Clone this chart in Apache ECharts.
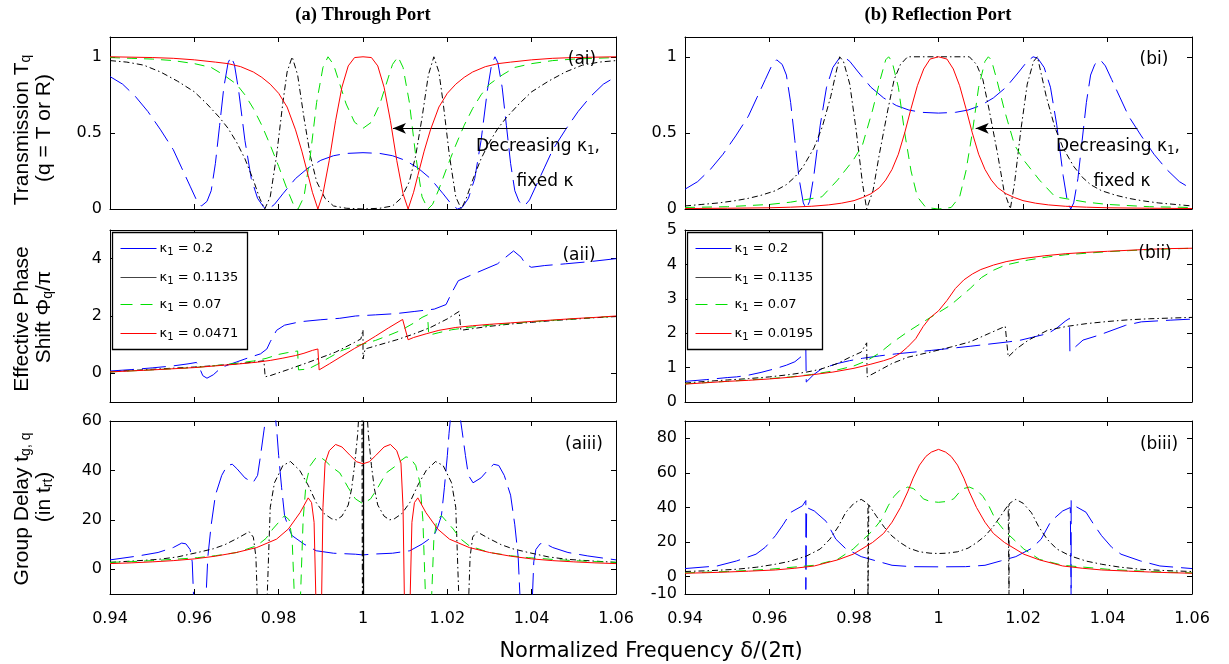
<!DOCTYPE html>
<html><head><meta charset="utf-8">
<script src="https://cdn.jsdelivr.net/npm/echarts@6/dist/echarts.min.js"></script>
<style>html,body{margin:0;padding:0;background:#fff}#c{width:1229px;height:664px}</style>
</head><body><div id="c"></div>
<script>
// ---------- tick labels / categories ----------
const xTicks = [0.94, 0.96, 0.98, 1, 1.02, 1.04, 1.06];
const yTicksT = [0, 0.5, 1];
const yTicksPhaseA = [0, 2, 4];
const yTicksPhaseB = [0, 1, 2, 3, 4, 5];
const yTicksDelayA = [0, 20, 40, 60];
const yTicksDelayB = [-10, 0, 20, 40, 60, 80];
const kappaLeft = ['0.2', '0.1135', '0.07', '0.0471'];
const kappaRight = ['0.2', '0.1135', '0.07', '0.0195'];
const arrowA = [[1.0483, 0.53], [1.0071, 0.53]];
const arrowB = [[1.0471, 0.53], [1.0088, 0.53]];
const centreSpike = [1.0];

// ---------- (ai) through-port transmission ----------
const tBlue = [[0.94,0.87],[0.943,0.82],[0.946,0.74],[0.949,0.64],[0.952,0.52],[0.955,0.39],[0.957,0.27],[0.959,0.15],[0.9605,0.06],[0.9617,0.02],[0.963,0.05],[0.964,0.12],[0.965,0.3],[0.966,0.55],[0.967,0.8],[0.968,0.96],[0.9687,1.0],[0.9695,0.95],[0.9705,0.78],[0.972,0.45],[0.9735,0.2],[0.975,0.07],[0.9765,0.01],[0.9776,0.0],[0.979,0.03],[0.981,0.1],[0.984,0.2],[0.987,0.27],[0.99,0.32],[0.993,0.35],[0.996,0.365],[1.0,0.37],[1.004,0.365],[1.007,0.35],[1.01,0.32],[1.013,0.27],[1.016,0.2],[1.019,0.1],[1.021,0.03],[1.0224,0.0],[1.0235,0.01],[1.025,0.07],[1.0265,0.2],[1.028,0.45],[1.0295,0.78],[1.0305,0.95],[1.0313,1.0],[1.032,0.96],[1.033,0.8],[1.034,0.55],[1.035,0.3],[1.036,0.12],[1.037,0.05],[1.0383,0.02],[1.0395,0.06],[1.041,0.15],[1.043,0.27],[1.045,0.39],[1.048,0.52],[1.051,0.64],[1.054,0.74],[1.057,0.82],[1.06,0.87]];
const tBlack = [[0.94,0.975],[0.944,0.965],[0.948,0.945],[0.952,0.9],[0.956,0.84],[0.96,0.77],[0.963,0.69],[0.966,0.6],[0.968,0.53],[0.97,0.44],[0.972,0.33],[0.974,0.19],[0.9755,0.07],[0.9767,0.0],[0.978,0.08],[0.9795,0.35],[0.981,0.7],[0.982,0.9],[0.9832,1.0],[0.9845,0.88],[0.986,0.6],[0.9875,0.35],[0.989,0.18],[0.991,0.07],[0.993,0.02],[0.996,0.005],[1.0,0.0],[1.004,0.005],[1.007,0.02],[1.009,0.07],[1.011,0.18],[1.0125,0.35],[1.014,0.6],[1.0155,0.88],[1.0168,1.0],[1.018,0.9],[1.019,0.7],[1.0205,0.35],[1.022,0.08],[1.0233,0.0],[1.0245,0.07],[1.026,0.19],[1.028,0.33],[1.03,0.44],[1.032,0.53],[1.034,0.6],[1.037,0.69],[1.04,0.77],[1.044,0.84],[1.048,0.9],[1.052,0.945],[1.056,0.965],[1.06,0.975]];
const tGreen = [[0.94,0.995],[0.945,0.99],[0.95,0.985],[0.955,0.975],[0.96,0.955],[0.964,0.93],[0.967,0.88],[0.97,0.82],[0.972,0.75],[0.974,0.66],[0.976,0.55],[0.978,0.42],[0.98,0.28],[0.982,0.13],[0.9835,0.03],[0.9846,0.0],[0.986,0.08],[0.9875,0.35],[0.989,0.7],[0.9905,0.93],[0.9917,1.0],[0.993,0.95],[0.9945,0.82],[0.996,0.69],[0.998,0.57],[1.0,0.53],[1.002,0.57],[1.004,0.69],[1.0055,0.82],[1.007,0.95],[1.0083,1.0],[1.0095,0.93],[1.011,0.7],[1.0125,0.35],[1.014,0.08],[1.0154,0.0],[1.0165,0.03],[1.018,0.13],[1.02,0.28],[1.022,0.42],[1.024,0.55],[1.026,0.66],[1.028,0.75],[1.03,0.82],[1.033,0.88],[1.036,0.93],[1.04,0.955],[1.045,0.975],[1.05,0.985],[1.055,0.99],[1.06,0.995]];
const tRed = [[0.94,1.0],[0.95,0.995],[0.955,0.99],[0.96,0.98],[0.965,0.965],[0.968,0.955],[0.971,0.935],[0.974,0.9],[0.976,0.865],[0.978,0.82],[0.98,0.76],[0.982,0.67],[0.984,0.52],[0.9855,0.38],[0.987,0.22],[0.988,0.11],[0.9893,0.0],[0.9905,0.1],[0.992,0.32],[0.9935,0.58],[0.995,0.8],[0.9965,0.94],[0.998,0.995],[1.0,1.0],[1.002,0.995],[1.0035,0.94],[1.005,0.8],[1.0065,0.58],[1.008,0.32],[1.0095,0.1],[1.0107,0.0],[1.012,0.11],[1.013,0.22],[1.0145,0.38],[1.016,0.52],[1.018,0.67],[1.02,0.76],[1.022,0.82],[1.024,0.865],[1.026,0.9],[1.029,0.935],[1.032,0.955],[1.035,0.965],[1.04,0.98],[1.045,0.99],[1.05,0.995],[1.06,1.0]];

// ---------- (bi) reflection-port transmission ----------
const rBlue = [[0.94,0.13],[0.943,0.18],[0.946,0.26],[0.949,0.36],[0.952,0.48],[0.955,0.61],[0.957,0.73],[0.959,0.85],[0.9605,0.94],[0.9617,0.98],[0.963,0.95],[0.964,0.88],[0.965,0.7],[0.966,0.45],[0.967,0.2],[0.968,0.04],[0.9687,0.0],[0.9695,0.05],[0.9705,0.22],[0.972,0.55],[0.9735,0.8],[0.975,0.93],[0.9765,0.99],[0.9776,1.0],[0.979,0.97],[0.981,0.9],[0.984,0.8],[0.987,0.73],[0.99,0.68],[0.993,0.65],[0.996,0.635],[1.0,0.63],[1.004,0.635],[1.007,0.65],[1.01,0.68],[1.013,0.73],[1.016,0.8],[1.019,0.9],[1.021,0.97],[1.0224,1.0],[1.0235,0.99],[1.025,0.93],[1.0265,0.8],[1.028,0.55],[1.0295,0.22],[1.0305,0.05],[1.0313,0.0],[1.032,0.04],[1.033,0.2],[1.034,0.45],[1.035,0.7],[1.036,0.88],[1.037,0.95],[1.0383,0.98],[1.0395,0.94],[1.041,0.85],[1.043,0.73],[1.045,0.61],[1.048,0.48],[1.051,0.36],[1.054,0.26],[1.057,0.18],[1.06,0.13]];
const rBlack = [[0.94,0.02],[0.944,0.03],[0.948,0.04],[0.952,0.055],[0.955,0.07],[0.958,0.09],[0.9614,0.12],[0.964,0.16],[0.966,0.21],[0.968,0.28],[0.9705,0.4],[0.9725,0.54],[0.9745,0.74],[0.9757,0.89],[0.9766,1.0],[0.9775,0.97],[0.979,0.82],[0.9805,0.52],[0.982,0.17],[0.983,0.0],[0.9845,0.12],[0.986,0.36],[0.988,0.65],[0.9895,0.85],[0.991,0.95],[0.9927,1.0],[1.0,1.0],[1.0073,1.0],[1.009,0.95],[1.0105,0.85],[1.012,0.65],[1.014,0.36],[1.0155,0.12],[1.017,0.0],[1.018,0.17],[1.0195,0.52],[1.021,0.82],[1.0225,0.97],[1.0234,1.0],[1.0243,0.89],[1.0255,0.74],[1.0275,0.54],[1.0295,0.4],[1.032,0.28],[1.034,0.21],[1.036,0.16],[1.0386,0.12],[1.042,0.09],[1.045,0.07],[1.048,0.055],[1.052,0.04],[1.056,0.03],[1.06,0.02]];
const rGreen = [[0.94,0.01],[0.95,0.015],[0.96,0.03],[0.965,0.045],[0.9724,0.08],[0.9761,0.19],[0.9798,0.32],[0.982,0.42],[0.9844,0.65],[0.9863,0.86],[0.9875,0.98],[0.9882,1.0],[0.989,0.97],[0.9905,0.8],[0.992,0.5],[0.9935,0.25],[0.995,0.08],[0.997,0.01],[1.0,0.0],[1.003,0.01],[1.005,0.08],[1.0065,0.25],[1.008,0.5],[1.0095,0.8],[1.011,0.97],[1.0118,1.0],[1.0125,0.98],[1.0137,0.86],[1.0156,0.65],[1.018,0.42],[1.0202,0.32],[1.0239,0.19],[1.0276,0.08],[1.035,0.045],[1.04,0.03],[1.05,0.015],[1.06,0.01]];
const rRed = [[0.94,0.003],[0.95,0.005],[0.96,0.008],[0.965,0.012],[0.97,0.018],[0.974,0.027],[0.977,0.038],[0.98,0.055],[0.982,0.075],[0.984,0.1],[0.986,0.14],[0.9875,0.19],[0.989,0.26],[0.9905,0.36],[0.992,0.5],[0.9935,0.66],[0.995,0.81],[0.9965,0.92],[0.998,0.985],[1.0,1.0],[1.002,0.985],[1.0035,0.92],[1.005,0.81],[1.0065,0.66],[1.008,0.5],[1.0095,0.36],[1.011,0.26],[1.0125,0.19],[1.014,0.14],[1.016,0.1],[1.018,0.075],[1.02,0.055],[1.023,0.038],[1.026,0.027],[1.03,0.018],[1.035,0.012],[1.04,0.008],[1.05,0.005],[1.06,0.003]];

// ---------- (aii) through-port phase ----------
const pBlue = [[0.94,0.08],[0.945,0.13],[0.95,0.19],[0.955,0.26],[0.9585,0.33],[0.9605,0.38],[0.9612,0.2],[0.962,-0.08],[0.963,-0.17],[0.9645,-0.05],[0.9664,0.2],[0.9685,0.32],[0.9701,0.4],[0.972,0.5],[0.974,0.6],[0.9757,0.68],[0.9772,0.85],[0.978,1.1],[0.9795,1.5],[0.9814,1.68],[0.9851,1.8],[0.99,1.87],[0.9945,1.92],[0.9982,2.0],[1.003,2.04],[1.0076,2.08],[1.0123,2.16],[1.0169,2.24],[1.0197,2.4],[1.021,2.8],[1.0226,3.23],[1.0263,3.47],[1.0319,3.82],[1.0357,4.27],[1.0375,4.05],[1.0385,3.82],[1.0399,3.7],[1.0431,3.76],[1.048,3.82],[1.054,3.9],[1.06,4.0]];
const pBlack = [[0.94,0.05],[0.945,0.1],[0.95,0.14],[0.955,0.18],[0.96,0.22],[0.965,0.27],[0.97,0.33],[0.974,0.39],[0.9765,0.44],[0.9768,-0.12],[0.978,-0.08],[0.982,0.12],[0.987,0.38],[0.9935,0.74],[0.998,1.08],[0.9995,1.2],[1.0,1.52],[1.0,0.5],[1.0005,0.85],[1.004,1.0],[1.008,1.17],[1.012,1.37],[1.016,1.6],[1.02,1.9],[1.0228,2.16],[1.0232,1.5],[1.026,1.56],[1.03,1.64],[1.035,1.72],[1.04,1.78],[1.045,1.84],[1.05,1.89],[1.055,1.94],[1.06,1.98]];
const pGreen = [[0.94,0.05],[0.95,0.12],[0.96,0.2],[0.965,0.27],[0.97,0.35],[0.974,0.43],[0.977,0.52],[0.98,0.66],[0.982,0.72],[0.9845,0.78],[0.9847,0.12],[0.987,0.15],[0.989,0.3],[0.992,0.55],[0.995,0.8],[0.998,0.95],[1.0,1.02],[1.003,1.15],[1.006,1.32],[1.009,1.5],[1.012,1.75],[1.014,1.95],[1.0153,2.04],[1.0156,1.33],[1.018,1.42],[1.021,1.52],[1.025,1.6],[1.03,1.68],[1.035,1.74],[1.04,1.8],[1.045,1.85],[1.05,1.9],[1.055,1.95],[1.06,1.99]];
const pRed = [[0.94,0.05],[0.95,0.12],[0.96,0.2],[0.965,0.26],[0.97,0.32],[0.975,0.39],[0.978,0.45],[0.981,0.53],[0.984,0.62],[0.986,0.7],[0.988,0.8],[0.9893,0.85],[0.9896,0.12],[0.992,0.33],[0.995,0.6],[0.998,0.87],[1.0,1.03],[1.003,1.3],[1.006,1.58],[1.0094,1.88],[1.0107,1.17],[1.012,1.25],[1.015,1.38],[1.018,1.5],[1.022,1.6],[1.026,1.66],[1.03,1.71],[1.035,1.76],[1.04,1.81],[1.045,1.86],[1.05,1.91],[1.055,1.95],[1.06,2.0]];

// ---------- (bii) reflection-port phase ----------
const qBlue = [[0.94,0.6],[0.945,0.65],[0.95,0.71],[0.9522,0.73],[0.955,0.78],[0.958,0.86],[0.9614,0.97],[0.964,1.07],[0.966,1.17],[0.9675,1.32],[0.9686,1.55],[0.9687,0.58],[0.9705,0.8],[0.9724,0.97],[0.9761,1.12],[0.9789,1.2],[0.982,1.27],[0.986,1.34],[0.99,1.4],[0.9983,1.5],[1.0075,1.62],[1.0167,1.75],[1.0195,1.8],[1.0259,1.99],[1.028,2.15],[1.03,2.35],[1.031,2.43],[1.0311,1.46],[1.0342,1.8],[1.0379,1.94],[1.0443,2.23],[1.048,2.33],[1.055,2.38],[1.06,2.41]];
const qBlack = [[0.94,0.55],[0.945,0.6],[0.95,0.64],[0.955,0.68],[0.96,0.73],[0.965,0.8],[0.9688,0.87],[0.972,0.95],[0.9761,1.12],[0.979,1.3],[0.9817,1.45],[0.983,1.72],[0.9831,0.73],[0.986,0.92],[0.989,1.12],[0.9927,1.3],[0.998,1.45],[1.003,1.6],[1.0075,1.75],[1.0121,2.0],[1.0158,2.2],[1.0162,2.23],[1.0165,1.31],[1.0185,1.55],[1.0213,1.8],[1.0259,2.09],[1.0305,2.2],[1.0351,2.28],[1.04,2.34],[1.045,2.39],[1.05,2.42],[1.055,2.44],[1.06,2.46]];
const qGreen = [[0.94,0.53],[0.95,0.6],[0.96,0.68],[0.965,0.73],[0.97,0.8],[0.975,0.9],[0.98,1.05],[0.983,1.2],[0.986,1.42],[0.989,1.72],[0.9927,2.04],[0.9964,2.33],[1.0,2.6],[1.0029,2.82],[1.0075,3.3],[1.0102,3.62],[1.013,3.83],[1.0158,3.98],[1.0213,4.13],[1.026,4.22],[1.03,4.28],[1.04,4.37],[1.05,4.43],[1.06,4.47]];
const qRed = [[0.94,0.52],[0.945,0.56],[0.95,0.6],[0.955,0.63],[0.96,0.67],[0.965,0.72],[0.97,0.79],[0.975,0.87],[0.98,0.98],[0.984,1.1],[0.987,1.2],[0.989,1.28],[0.991,1.42],[0.9927,1.6],[0.9946,1.84],[0.9964,2.2],[0.998,2.45],[1.0,2.65],[1.002,2.95],[1.004,3.3],[1.006,3.55],[1.008,3.72],[1.01,3.85],[1.013,3.98],[1.016,4.08],[1.02,4.17],[1.025,4.25],[1.03,4.31],[1.035,4.35],[1.04,4.38],[1.045,4.41],[1.05,4.44],[1.055,4.46],[1.06,4.47]];

// ---------- (aiii) through-port group delay ----------
const gBlue = [[0.94,3.8],[0.9467,5.4],[0.9514,6.8],[0.955,8.8],[0.957,10.6],[0.958,10.3],[0.959,8],[0.9595,3],[0.9598,-10],[0.961,-60],[0.9628,-10],[0.9632,5],[0.964,18],[0.965,30],[0.9665,38],[0.9678,42],[0.969,42.5],[0.9701,40.7],[0.972,37],[0.9739,35],[0.975,38],[0.9757,46],[0.9765,56],[0.977,62],[0.978,90],[0.9792,62],[0.9796,55],[0.98,46],[0.9807,33],[0.9814,21.7],[0.9823,17],[0.9832,13.6],[0.986,10.2],[0.9889,7.5],[0.993,6.5],[0.9982,6.1],[1.0,5.8],[1.0018,6.1],[1.007,6.5],[1.0111,7.5],[1.014,10.2],[1.0168,13.6],[1.0177,17],[1.0186,21.7],[1.0193,33],[1.02,46],[1.0204,55],[1.0208,62],[1.022,90],[1.023,62],[1.0235,56],[1.0243,46],[1.025,38],[1.0261,35],[1.028,37],[1.0299,40.7],[1.031,42.5],[1.0322,42],[1.0335,38],[1.035,30],[1.036,18],[1.0368,5],[1.0372,-10],[1.039,-60],[1.0402,-10],[1.0405,3],[1.041,8],[1.042,10.3],[1.043,10.6],[1.045,8.8],[1.0486,6.8],[1.0533,5.4],[1.06,3.8]];
const gBlack = [[0.94,2.8],[0.945,3.3],[0.9514,4.0],[0.956,5.0],[0.9608,6.8],[0.9645,8.3],[0.9673,10],[0.9705,12.8],[0.973,15.2],[0.974,13],[0.9746,5],[0.9749,-10],[0.976,-60],[0.9773,-10],[0.9776,5],[0.978,25],[0.979,35],[0.981,42],[0.9828,43.6],[0.985,40],[0.987,34],[0.9889,27],[0.9908,22.5],[0.9926,20.4],[0.9937,20],[0.995,21.5],[0.9965,26],[0.9973,32.6],[0.998,42],[0.9987,54],[0.999,62],[0.9996,150],[1.0,150],[1.0,-100],[1.0,150],[1.0004,150],[1.001,62],[1.0013,54],[1.002,42],[1.0027,32.6],[1.0035,26],[1.005,21.5],[1.0063,20],[1.0074,20.4],[1.0092,22.5],[1.0111,27],[1.013,34],[1.015,40],[1.0172,43.6],[1.019,42],[1.021,35],[1.022,25],[1.0224,5],[1.0227,-10],[1.024,-60],[1.0251,-10],[1.0254,5],[1.026,13],[1.027,15.2],[1.0295,12.8],[1.0327,10],[1.0355,8.3],[1.0392,6.8],[1.044,5.0],[1.0486,4.0],[1.055,3.3],[1.06,2.8]];
const gGreen = [[0.94,2.8],[0.945,3.1],[0.95,3.5],[0.955,4.0],[0.9608,4.7],[0.965,5.5],[0.9701,6.8],[0.9748,9.5],[0.977,12.5],[0.9786,16.3],[0.98,19],[0.9814,21.7],[0.9825,20],[0.9832,12],[0.9837,-10],[0.9845,-60],[0.9852,-10],[0.9858,20],[0.9865,35],[0.9875,42],[0.9888,45],[0.9898,45.5],[0.991,44],[0.9925,41.5],[0.9945,39],[0.9965,33],[0.9982,28.5],[1.0,26.5],[1.0018,28.5],[1.0035,33],[1.0055,39],[1.0075,41.5],[1.009,44],[1.0102,45.5],[1.0112,45],[1.0125,42],[1.0135,35],[1.0142,20],[1.0148,-10],[1.0155,-60],[1.0163,-10],[1.0168,12],[1.0175,20],[1.0186,21.7],[1.02,19],[1.0214,16.3],[1.023,12.5],[1.0252,9.5],[1.0299,6.8],[1.035,5.5],[1.0392,4.7],[1.045,4.0],[1.05,3.5],[1.055,3.1],[1.06,2.8]];
const gRed = [[0.94,2.3],[0.945,2.6],[0.95,3.0],[0.955,3.5],[0.96,4.2],[0.965,5.3],[0.97,6.8],[0.9748,8.8],[0.9795,12.2],[0.9823,16.3],[0.9851,23],[0.987,28.9],[0.9878,27],[0.9884,19],[0.9888,-10],[0.9892,-80],[0.9898,-80],[0.9902,-10],[0.9905,25],[0.991,43],[0.992,48],[0.9935,50.5],[0.995,49.5],[0.997,46],[0.9985,43.5],[1.0,42.7],[1.0015,43.5],[1.003,46],[1.005,49.5],[1.0065,50.5],[1.008,48],[1.009,43],[1.0095,25],[1.0098,-10],[1.0102,-80],[1.0108,-80],[1.0112,-10],[1.0116,19],[1.0122,27],[1.013,28.9],[1.0149,23],[1.0177,16.3],[1.0205,12.2],[1.0252,8.8],[1.03,6.8],[1.035,5.3],[1.04,4.2],[1.045,3.5],[1.05,3.0],[1.055,2.6],[1.06,2.3]];

// ---------- (biii) reflection-port group delay ----------
const hBlue = [[0.94,4.7],[0.9476,6.2],[0.9522,9.1],[0.9568,13],[0.959,17],[0.9614,23.7],[0.9632,30],[0.9651,37.3],[0.9678,41],[0.9686,44],[0.9686,-7.4],[0.9688,40],[0.9706,38],[0.9734,32],[0.9757,21.7],[0.978,16.3],[0.9817,11.6],[0.9853,9.1],[0.989,6.6],[0.9936,5.8],[1.0,5.7],[1.0064,5.8],[1.011,6.6],[1.0147,9.1],[1.0183,11.6],[1.022,16.3],[1.0243,21.7],[1.0266,32],[1.0294,38],[1.0312,40],[1.0314,-15],[1.0314,44],[1.0322,41],[1.0349,37.3],[1.0368,30],[1.0386,23.7],[1.041,17],[1.0432,13],[1.0478,9.1],[1.0524,6.2],[1.06,4.7]];
const hBlack = [[0.94,3],[0.946,3.5],[0.9522,4.3],[0.957,5.5],[0.9614,7.2],[0.965,9],[0.9688,12],[0.972,16],[0.9743,21.7],[0.9763,29],[0.978,37],[0.98,42.5],[0.9817,44.7],[0.9828,43],[0.9833,42],[0.9833,-15],[0.9835,41.5],[0.9853,35],[0.9872,28.5],[0.989,23.5],[0.9909,19.8],[0.993,16.5],[0.9955,14.4],[0.998,13.6],[1.0,13.4],[1.002,13.6],[1.0045,14.4],[1.007,16.5],[1.0091,19.8],[1.011,23.5],[1.0128,28.5],[1.0147,35],[1.0165,41.5],[1.0167,-15],[1.0167,42],[1.0172,43],[1.0183,44.7],[1.02,42.5],[1.022,37],[1.0237,29],[1.0257,21.7],[1.028,16],[1.0312,12],[1.035,9],[1.0386,7.2],[1.043,5.5],[1.0478,4.3],[1.054,3.5],[1.06,3]];
const hGreen = [[0.94,2.2],[0.945,2.6],[0.95,3.0],[0.955,3.6],[0.96,4.3],[0.9706,6.6],[0.9761,10],[0.9798,16],[0.9844,26.6],[0.9865,33],[0.9881,41],[0.9895,46.5],[0.9909,50],[0.9927,51.8],[0.994,51],[0.995,49],[0.9964,45],[0.998,43.5],[1.0,43],[1.002,43.5],[1.0036,45],[1.005,49],[1.006,51],[1.0073,51.8],[1.0091,50],[1.0105,46.5],[1.0119,41],[1.0135,33],[1.0156,26.6],[1.0202,16],[1.0239,10],[1.0294,6.6],[1.04,4.3],[1.045,3.6],[1.05,3.0],[1.055,2.6],[1.06,2.2]];
const hRed = [[0.94,2],[0.945,2.3],[0.95,2.7],[0.955,3.2],[0.9614,3.9],[0.966,4.9],[0.9706,6.2],[0.9761,9.7],[0.9798,13],[0.9844,19.8],[0.987,25],[0.989,31.5],[0.991,40],[0.9927,49],[0.994,57],[0.9955,64.5],[0.997,69.5],[0.9983,72],[1.0,73.6],[1.0017,72],[1.003,69.5],[1.0045,64.5],[1.006,57],[1.0073,49],[1.009,40],[1.011,31.5],[1.013,25],[1.0156,19.8],[1.0202,13],[1.0239,9.7],[1.0294,6.2],[1.034,4.9],[1.0386,3.9],[1.045,3.2],[1.05,2.7],[1.055,2.3],[1.06,2]];

// ---------- layout / styling ----------
const FONT = 'DejaVu Sans';
const grids = [
  {left:110, top:37, width:506, height:172},
  {left:685, top:37, width:507, height:172},
  {left:110, top:230, width:506, height:172},
  {left:685, top:230, width:507, height:172},
  {left:110, top:421, width:506, height:173},
  {left:685, top:421, width:507, height:173}
];
const yRanges = [[0,1.13],[0,1.13],[-1,5],[0,5],[-10,60],[-10,90]];
const yTicks = [yTicksT, yTicksT, yTicksPhaseA, yTicksPhaseB, yTicksDelayA, yTicksDelayB];
const panelData = [
  [tBlue,tBlack,tGreen,tRed],[rBlue,rBlack,rGreen,rRed],
  [pBlue,pBlack,pGreen,pRed],[qBlue,qBlack,qGreen,qRed],
  [gBlue,gBlack,gGreen,gRed],[hBlue,hBlack,hGreen,hRed]
];
const lineStyles = [
  {color:'#0000ff', width:1, type:[24,8]},
  {color:'#000000', width:1, type:[6,3,1.5,3]},
  {color:'#00e000', width:1, type:[10,7]},
  {color:'#ff0000', width:1, type:'solid'}
];
const names = ['k1=0.2','k1=0.1135','k1=0.07','k1=red'];

const axisLine = {show:true, onZero:false, lineStyle:{color:'#000', width:1}};
const xAxes = [], yAxes = [], series = [];
grids.forEach((g, i) => {
  const tickX = {show:true, inside:true, length:5, customValues:xTicks, lineStyle:{color:'#000'}};
  xAxes.push({type:'value', gridIndex:i, min:0.94, max:1.06, position:'bottom', axisLine, axisTick:tickX,
    axisLabel:{show:i>=4, customValues:xTicks, formatter:v=>String(v), fontFamily:FONT, fontSize:16, color:'#000', margin:17},
    splitLine:{show:false}});
  xAxes.push({type:'value', gridIndex:i, min:0.94, max:1.06, position:'top', axisLine, axisTick:tickX,
    axisLabel:{show:false}, splitLine:{show:false}});
  const tickY = {show:true, inside:true, length:5, customValues:yTicks[i], lineStyle:{color:'#000'}};
  yAxes.push({type:'value', gridIndex:i, min:yRanges[i][0], max:yRanges[i][1], position:'left', axisLine, axisTick:tickY,
    axisLabel:{show:true, customValues:yTicks[i], formatter:v=>String(v), fontFamily:FONT, fontSize:16, color:'#000', margin:8},
    splitLine:{show:false}});
  yAxes.push({type:'value', gridIndex:i, min:yRanges[i][0], max:yRanges[i][1], position:'right', axisLine, axisTick:tickY,
    axisLabel:{show:false}, splitLine:{show:false}});
  panelData[i].forEach((d, k) => {
    const s = {type:'line', name:names[k], xAxisIndex:2*i, yAxisIndex:2*i, data:d, symbol:'none', showSymbol:false,
      lineStyle:lineStyles[k], clip:true, silent:true, animation:false, z:2+k};
    if (k === 3 && (i === 0 || i === 1)) {
      const a = i === 0 ? arrowA : arrowB;
      s.markLine = {silent:true, animation:false, symbol:['none','arrow'], symbolSize:[8,13],
        lineStyle:{color:'#000', width:1, type:'solid'}, label:{show:false},
        data:[[{coord:a[0]},{coord:a[1]}]]};
    }
    if (k === 1 && i === 4) {
      s.markLine = {silent:true, animation:false, symbol:['none','none'],
        lineStyle:{color:'#000', width:1.3, type:'solid'}, label:{show:false},
        data:centreSpike.map(v => ({xAxis:v}))};
    }
    series.push(s);
  });
});

const sub = {s:{fontSize:12, fontFamily:FONT, padding:[8,0,0,0]}};
const subL = {s:{fontSize:14, fontFamily:'Liberation Sans', padding:[9,0,0,0]}};
function txt(x, y, text, font, extra) {
  return Object.assign({type:'text', x, y, z:120, style:{text, font, fill:'#000', align:'center', verticalAlign:'middle', rich:sub}}, extra||{});
}
function rot(x, y, text) {
  return {type:'text', x, y, rotation:Math.PI/2, z:120,
    style:{text, font:'21px "Liberation Sans"', fill:'#000', align:'center', verticalAlign:'middle', rich:subL}};
}
function legend(x0, y0, labels) {
  const cols = ['#0000ff','#444444','#00e000','#ff0000'];
  const dashes = [null, null, [12,8], null];
  const offs = [16, 45, 72, 101];
  const els = [{type:'rect', z:110, shape:{x:x0, y:y0, width:135, height:117}, style:{fill:'#fff', stroke:'#000', lineWidth:1.3}}];
  labels.forEach((lab, i) => {
    els.push({type:'line', z:111, shape:{x1:x0+8, y1:y0+offs[i], x2:x0+44, y2:y0+offs[i]}, style:{stroke:cols[i], lineWidth:1, lineDash:dashes[i]}});
    els.push({type:'text', z:111, x:x0+47, y:y0+offs[i], style:{text:'κ{s|1} = '+lab, font:'13px "DejaVu Sans"', fill:'#000', align:'left', verticalAlign:'middle', rich:{s:{fontSize:10, fontFamily:FONT, padding:[7,0,0,0]}}}});
  });
  return els;
}

const graphics = [
  txt(363, 15, '(a) Through Port', 'bold 18.5px "Liberation Serif"'),
  txt(938, 15, '(b) Reflection Port', 'bold 18.5px "Liberation Serif"'),
  txt(651, 652, 'Normalized Frequency δ/(2π)', '21px "DejaVu Sans"'),
  rot(22, 130, 'Transmission T{s|q}'), rot(44, 128, '(q = T or R)'),
  rot(22, 319, 'Effective Phase'), rot(44, 317, 'Shift Φ{s|q}/π'),
  rot(22, 509, 'Group Delay t{s|g, q}'), rot(44, 497, '(in t{s|rt})'),
  txt(582, 60, '(ai)', '17px "DejaVu Sans"'),
  txt(1154, 60, '(bi)', '17px "DejaVu Sans"'),
  txt(579, 256, '(aii)', '17px "DejaVu Sans"'),
  txt(1155, 254, '(bii)', '17px "DejaVu Sans"'),
  txt(584, 445, '(aiii)', '17px "DejaVu Sans"'),
  txt(1159, 445, '(biii)', '17px "DejaVu Sans"'),
  txt(538, 147, 'Decreasing κ{s|1},', '17px "DejaVu Sans"'),
  txt(545, 182, 'fixed κ', '17px "DejaVu Sans"'),
  txt(1118, 147, 'Decreasing κ{s|1},', '17px "DejaVu Sans"'),
  txt(1122, 182, 'fixed κ', '17px "DejaVu Sans"')
].concat(legend(112.5, 232.5, kappaLeft), legend(687.5, 232.5, kappaRight));

const chart = echarts.init(document.getElementById('c'), null, {renderer:'canvas'});
chart.setOption({
  animation:false,
  backgroundColor:'#fff',
  grid:grids,
  xAxis:xAxes,
  yAxis:yAxes,
  series:series,
  graphic:graphics
});
</script></body></html>
